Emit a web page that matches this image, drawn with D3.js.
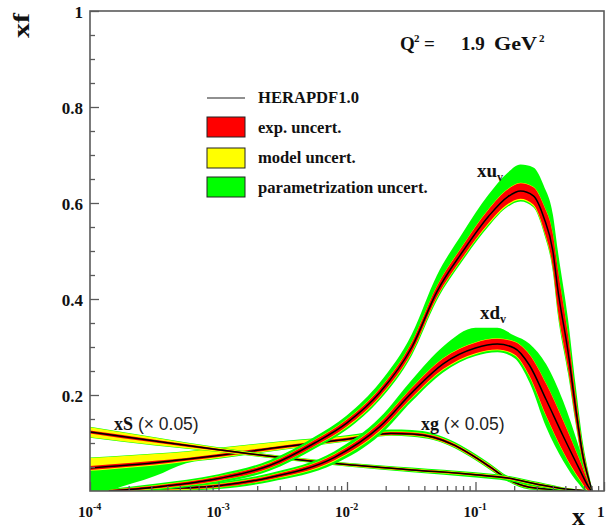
<!DOCTYPE html>
<html><head><meta charset="utf-8">
<script src="https://cdn.jsdelivr.net/npm/d3@7"></script>
<style>
html,body{margin:0;padding:0;background:#fff;overflow:hidden}
svg{display:block}
</style></head>
<body>
<svg id="chart" width="606" height="531"></svg>
<script>
// ---------- data ----------
const yTicks = [0.2, 0.4, 0.6, 0.8, 1];
const yTickLabels = ["0.2", "0.4", "0.6", "0.8", "1"];
const xTicks = [1e-4, 1e-3, 1e-2, 1e-1, 1];
const xTickBase = ["10", "10", "10", "10", "1"];
const xTickExp = ["-4", "-3", "-2", "-1", ""];
const legendLabels = ["HERAPDF1.0", "exp. uncert.", "model uncert.", "parametrization uncert."];

// xS (x 0.05)
const sX      = [1e-4, 3.2e-4, 1e-3, 3.2e-3, 0.01, 0.032, 0.1, 0.178, 0.316, 0.5, 0.79];
const sVal    = [0.123, 0.104, 0.086, 0.069, 0.055, 0.044, 0.034, 0.027, 0.013, 0.004, 0.0];
const sExp    = [0.003, 0.003, 0.002, 0.002, 0.002, 0.002, 0.002, 0.002, 0.002, 0.001, 0.001];
const sModUp  = [0.007, 0.004, 0.002, 0.001, 0.001, 0.001, 0.001, 0.001, 0.001, 0.001, 0.0];
const sModDn  = [0.008, 0.005, 0.002, 0.001, 0.001, 0.001, 0.001, 0.001, 0.001, 0.001, 0.0];
const sParUp  = [0.001, 0.001, 0.001, 0.001, 0.001, 0.002, 0.002, 0.002, 0.002, 0.001, 0.0];
const sParDn  = [0.001, 0.001, 0.001, 0.001, 0.001, 0.002, 0.003, 0.003, 0.002, 0.001, 0.0];

// xg (x 0.05)
const gX      = [1e-4, 1.4e-4, 3.2e-4, 5.6e-4, 1e-3, 3.2e-3, 0.01, 0.022, 0.032, 0.047, 0.069, 0.1, 0.13, 0.178, 0.263, 0.5, 0.79];
const gVal    = [0.048, 0.051, 0.059, 0.066, 0.074, 0.092, 0.108, 0.120, 0.119, 0.112, 0.095, 0.070, 0.050, 0.025, 0.008, 0.002, 0.0];
const gExp    = [0.004, 0.004, 0.004, 0.003, 0.003, 0.003, 0.003, 0.003, 0.003, 0.003, 0.003, 0.003, 0.003, 0.002, 0.002, 0.001, 0.001];
const gModUp  = [0.017, 0.016, 0.014, 0.013, 0.012, 0.008, 0.003, 0.001, 0.001, 0.001, 0.001, 0.001, 0.001, 0.001, 0.001, 0.001, 0.0];
const gModDn  = [0.002, 0.002, 0.002, 0.002, 0.002, 0.002, 0.001, 0.001, 0.001, 0.001, 0.001, 0.001, 0.001, 0.001, 0.001, 0.001, 0.0];
const gParUp  = [0.001, 0.001, 0.001, 0.001, 0.001, 0.001, 0.002, 0.004, 0.004, 0.004, 0.003, 0.003, 0.003, 0.003, 0.002, 0.001, 0.0];
const gParDn  = [0.060, 0.046, 0.022, 0.003, 0.002, 0.001, 0.001, 0.001, 0.002, 0.002, 0.002, 0.002, 0.002, 0.002, 0.002, 0.001, 0.0];

// xdv
const dX      = [1.8e-4, 3.2e-4, 1e-3, 2.5e-3, 8e-3, 0.018, 0.032, 0.056, 0.1, 0.148, 0.2, 0.263, 0.355, 0.48, 0.645, 0.76, 0.8];
const dVal    = [0.0, 0.004, 0.011, 0.028, 0.070, 0.134, 0.205, 0.265, 0.298, 0.306, 0.298, 0.262, 0.190, 0.115, 0.045, 0.008, 0.0];
const dExp    = [0.001, 0.002, 0.003, 0.004, 0.006, 0.008, 0.010, 0.011, 0.011, 0.011, 0.013, 0.022, 0.033, 0.032, 0.020, 0.008, 0.002];
const dModUp  = [0.0, 0.001, 0.001, 0.001, 0.001, 0.001, 0.001, 0.001, 0.001, 0.001, 0.001, 0.001, 0.001, 0.001, 0.001, 0.001, 0.0];
const dModDn  = [0.0, 0.001, 0.001, 0.001, 0.002, 0.002, 0.002, 0.002, 0.002, 0.002, 0.002, 0.002, 0.002, 0.002, 0.002, 0.001, 0.0];
const dParUp  = [0.001, 0.002, 0.003, 0.004, 0.006, 0.010, 0.016, 0.024, 0.030, 0.022, 0.012, 0.022, 0.040, 0.040, 0.022, 0.008, 0.001];
const dParDn  = [0.001, 0.002, 0.003, 0.004, 0.006, 0.008, 0.006, 0.005, 0.004, 0.004, 0.006, 0.012, 0.022, 0.018, 0.010, 0.004, 0.001];

// xuv
const uX      = [1.4e-4, 3.2e-4, 1e-3, 2.5e-3, 5.6e-3, 0.01, 0.018, 0.032, 0.05, 0.08, 0.126, 0.178, 0.224, 0.282, 0.34, 0.4, 0.437, 0.525, 0.6, 0.687, 0.76, 0.81];
const uVal    = [0.0, 0.008, 0.026, 0.053, 0.100, 0.142, 0.205, 0.300, 0.415, 0.500, 0.572, 0.613, 0.625, 0.615, 0.570, 0.500, 0.420, 0.290, 0.175, 0.072, 0.025, 0.0];
const uExp    = [0.002, 0.003, 0.004, 0.005, 0.006, 0.007, 0.008, 0.010, 0.011, 0.012, 0.014, 0.015, 0.016, 0.018, 0.025, 0.035, 0.042, 0.035, 0.025, 0.014, 0.006, 0.002];
const uModUp  = [0.0, 0.001, 0.001, 0.001, 0.001, 0.001, 0.001, 0.001, 0.001, 0.001, 0.001, 0.001, 0.001, 0.001, 0.001, 0.001, 0.001, 0.001, 0.001, 0.001, 0.001, 0.0];
const uModDn  = [0.001, 0.001, 0.001, 0.001, 0.001, 0.002, 0.002, 0.002, 0.002, 0.002, 0.003, 0.003, 0.003, 0.003, 0.003, 0.003, 0.003, 0.002, 0.002, 0.002, 0.001, 0.0];
const uParUp  = [0.002, 0.003, 0.004, 0.005, 0.006, 0.008, 0.012, 0.016, 0.022, 0.026, 0.030, 0.034, 0.038, 0.040, 0.040, 0.040, 0.038, 0.032, 0.022, 0.012, 0.005, 0.001];
const uParDn  = [0.002, 0.003, 0.004, 0.005, 0.005, 0.005, 0.005, 0.005, 0.005, 0.005, 0.004, 0.003, 0.003, 0.003, 0.004, 0.006, 0.008, 0.008, 0.006, 0.004, 0.002, 0.001];

// ---------- drawing ----------
const SERIF = "'Liberation Serif', Tinos, 'Times New Roman', Times, 'DejaVu Serif', serif";
const SANS = "'Liberation Sans', Arimo, Arial, Helvetica, sans-serif";
const svg = d3.select("#chart").attr("font-family", SERIF).attr("font-weight", "bold");
const x = d3.scaleLog().domain([1e-4, 1]).range([90, 604]);
const y = d3.scaleLinear().domain([0, 1]).range([491, 11]);

const GREEN = "#00ff00", YELLOW = "#ffff00", RED = "#ff0000";

svg.append("defs").append("clipPath").attr("id", "plotclip")
  .append("rect").attr("x", 90).attr("y", 11).attr("width", 514).attr("height", 480);

const plot = svg.append("g").attr("clip-path", "url(#plotclip)");

function drawPdf(xs, c, e, mu, md, pu, pd) {
  const idx = d3.range(xs.length);
  const band = (lo, hi) => d3.area()
    .x(i => x(xs[i])).y0(i => y(lo(i))).y1(i => y(hi(i)))
    .curve(d3.curveMonotoneX)(idx);
  const g = plot.append("g");
  g.append("path").attr("fill", GREEN)
    .attr("d", band(i => c[i] - e[i] - md[i] - pd[i], i => c[i] + e[i] + mu[i] + pu[i]));
  g.append("path").attr("fill", YELLOW)
    .attr("d", band(i => c[i] - e[i] - md[i], i => c[i] + e[i] + mu[i]));
  g.append("path").attr("fill", RED)
    .attr("d", band(i => c[i] - e[i], i => c[i] + e[i]));
  g.append("path").attr("fill", "none").attr("stroke", "#000").attr("stroke-width", 1.5)
    .attr("d", d3.line().x(i => x(xs[i])).y(i => y(c[i])).curve(d3.curveMonotoneX)(idx));
}

drawPdf(gX, gVal, gExp, gModUp, gModDn, gParUp, gParDn);
drawPdf(sX, sVal, sExp, sModUp, sModDn, sParUp, sParDn);
drawPdf(dX, dVal, dExp, dModUp, dModDn, dParUp, dParDn);
drawPdf(uX, uVal, uExp, uModUp, uModDn, uParUp, uParDn);

// ---------- axes ----------
const AX = "#5a5a5a";
const yMinor = d3.range(1, 20).map(k => k * 0.05).filter(v => Math.abs(v * 5 - Math.round(v * 5)) > 1e-6);
const yAxisMinor = svg.append("g").attr("transform", "translate(90,0)")
  .call(d3.axisLeft(y).tickValues(yMinor).tickSize(-5).tickSizeOuter(0).tickFormat(""));
const yAxis = svg.append("g").attr("transform", "translate(90,0)")
  .call(d3.axisLeft(y).tickValues(yTicks).tickSize(-9).tickSizeOuter(0).tickPadding(7)
    .tickFormat((d, i) => yTickLabels[i]));

const xMinor = [];
[1e-4, 1e-3, 1e-2, 1e-1].forEach(b => { for (let k = 2; k <= 9; k++) xMinor.push(b * k); });
const xAxisMinor = svg.append("g").attr("transform", "translate(0,491)")
  .call(d3.axisBottom(x).tickValues(xMinor).tickSize(-5).tickSizeOuter(0).tickFormat(""));
const xAxis = svg.append("g").attr("transform", "translate(0,491)")
  .call(d3.axisBottom(x).tickValues(xTicks).tickSize(-9).tickSizeOuter(0).tickFormat(""));

[yAxisMinor, yAxis, xAxisMinor, xAxis].forEach(a => {
  a.attr("font-family", SERIF).attr("font-weight", "bold");
  a.selectAll(".tick line").attr("stroke", AX).attr("stroke-width", 1.3);
  a.select(".domain").remove();
});
yAxis.selectAll(".tick text")
  .attr("font-family", SERIF).attr("font-weight", "bold")
  .attr("font-size", 17).attr("fill", "#111").attr("dy", "0.36em");

// x tick labels with exponents
const xl = svg.append("g");
xTicks.forEach((t, i) => {
  const tx = xl.append("text").attr("y", 517).attr("font-size", 15).attr("fill", "#111")
    .attr("font-family", SERIF).attr("font-weight", "bold")
    .attr("x", xTickExp[i] ? x(t) - 12 : x(t) - 7);
  tx.append("tspan").text(xTickBase[i]);
  if (xTickExp[i]) tx.append("tspan").attr("dy", -7).attr("font-size", 10).text(xTickExp[i]);
});

// frame
svg.append("rect").attr("x", 90).attr("y", 11).attr("width", 514).attr("height", 480)
  .attr("fill", "none").attr("stroke", AX).attr("stroke-width", 1.6);

function txt(px, py, size) {
  return svg.append("text").attr("x", px).attr("y", py).attr("font-size", size)
    .attr("font-family", SERIF).attr("font-weight", "bold").attr("fill", "#111");
}

// axis titles
svg.append("text").attr("transform", "translate(29,38) rotate(-90)")
  .attr("font-family", SERIF).attr("font-weight", "bold").attr("fill", "#111")
  .attr("font-size", 23).attr("textLength", 25).attr("lengthAdjust", "spacingAndGlyphs").text("xf");
txt(572, 525, 26).text("x");

// Q^2 label
const q = txt(400, 50, 19);
q.append("tspan").attr("x", 400).text("Q");
q.append("tspan").attr("x", 414).attr("dy", -8).attr("font-size", 11).text("2");
q.append("tspan").attr("x", 424).attr("dy", 8).text("=");
q.append("tspan").attr("x", 461).text("1.9");
q.append("tspan").attr("x", 494).attr("textLength", 43).attr("lengthAdjust", "spacingAndGlyphs").text("GeV");
q.append("tspan").attr("x", 539).attr("dy", -8).attr("font-size", 11).text("2");

// legend
const lg = svg.append("g");
lg.append("line").attr("x1", 207).attr("x2", 245).attr("y1", 98).attr("y2", 98)
  .attr("stroke", "#222").attr("stroke-width", 1.2);
const boxY = [117, 148, 177];
[RED, YELLOW, GREEN].forEach((col, i) => {
  lg.append("rect").attr("x", 207).attr("y", boxY[i]).attr("width", 38).attr("height", 20)
    .attr("fill", col).attr("stroke", "#222").attr("stroke-width", 1);
});
const legY = [103, 133, 163, 193];
legendLabels.forEach((s, i) => { txt(258, legY[i], 16.6).text(s); });

// curve labels
function curveLabel(px, py, main, sub) {
  const t = txt(px, py, 19);
  t.append("tspan").text(main);
  t.append("tspan").attr("font-size", 12).attr("dy", 4).text(sub);
}
curveLabel(477, 177, "xu", "v");
curveLabel(480, 319, "xd", "v");

function scaledLabel(px, py, main) {
  const t = txt(px, py, 18);
  t.append("tspan").text(main);
  t.append("tspan").attr("font-family", SANS)
    .attr("font-weight", "normal").attr("font-size", 17.5).attr("fill", "#222").text(" (\u00d7 0.05)");
}
scaledLabel(114, 430, "xS");
scaledLabel(421, 430, "xg");
</script>
</body></html>
